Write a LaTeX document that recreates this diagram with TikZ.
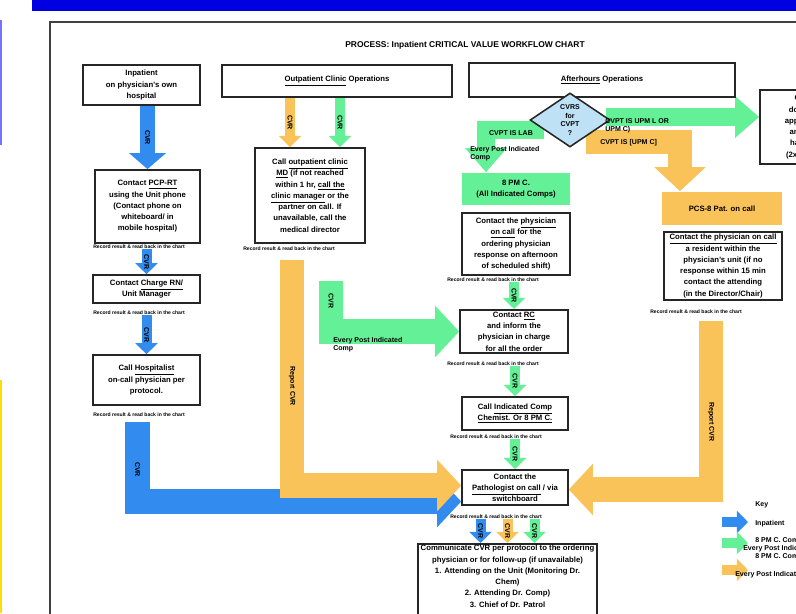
\documentclass[tikz,border=0pt]{standalone}
\usepackage{fontspec}
\setmainfont{Liberation Sans}
\usetikzlibrary{arrows.meta,shapes.geometric,calc}
\definecolor{barblue}{RGB}{0,0,225}
\definecolor{arrblue}{RGB}{50,140,240}
\definecolor{arrgreen}{RGB}{100,240,150}
\definecolor{arrorange}{RGB}{250,195,90}
\definecolor{decblue}{RGB}{190,225,245}
\pgfdeclarelayer{bg}
\pgfsetlayers{bg,main}
\tikzset{
  box/.style={draw=black!85,line width=1.1pt,fill=white,align=center,inner sep=1.5pt,
    font=\bfseries\fontsize{5.5}{8}\selectfont},
  fillbox/.style={box,draw=none},
  decision/.style={diamond,draw=black!85,line width=1.1pt,fill=decblue,inner sep=0pt,
    minimum width=2cm,minimum height=1.35cm},
  note/.style={anchor=north west,inner sep=0pt,font=\bfseries\fontsize{3.6}{4}\selectfont},
  arrlab/.style={text=black,inner sep=0pt,font=\bfseries\fontsize{5}{6}\selectfont},
  smallarr/.style={line width=0.25cm,-{Triangle[width=0.55cm,length=0.28cm]}},
  midarr/.style={line width=0.36cm,-{Triangle[width=0.9cm,length=0.4cm]}},
  diaarr/.style={line width=0.45cm,-{Triangle[width=1cm,length=0.6cm]}},
  bigarr/.style={line width=0.62cm,-{Triangle[width=1.25cm,length=0.6cm]}},
}
\begin{document}
\begin{tikzpicture}[x=0.025cm,y=-0.025cm]
\useasboundingbox (0,0) rectangle (796,613);
\fill[barblue] (32,0) rectangle (796,11);
\fill[blue!55] (0,20) rectangle (2,145);
\fill[yellow!80!orange] (0,380) rectangle (2,613);
\draw[black!75,line width=1.6pt] (830,22) -- (50,22) -- (50,650);
\node[font=\bfseries\fontsize{6}{7}\selectfont] (title) at (465,45) {PROCESS: Inpatient CRITICAL VALUE WORKFLOW CHART};

\node[box,minimum width=2.93cm,minimum height=1cm] (inpat) at (141.5,85) {Inpatient\\on physician's own\\hospital};
\node[box,minimum width=5.75cm,minimum height=0.8cm] (outpat) at (337,81) {\underline{Outpatient Clinic} Operations};
\node[box,minimum width=6.65cm,minimum height=0.85cm] (after) at (602,80) {\underline{Afterhours} Operations};
\node[box,minimum width=2.25cm,minimum height=1.85cm] (side) at (805,127) {CVPT\\does not\\apply to all\\analytes\\handled\\(2x check)};
\node[decision,label={[arrlab,align=center]center:{CVRS\\for\\CVPT\\?}}] (dec) at (570,120) {};

\node[box,minimum width=2.63cm,minimum height=1.83cm] (contact) at (147.5,206.5) {Contact \underline{PCP-RT}\\using the Unit phone\\(Contact phone on\\whiteboard/ in\\mobile hospital)};
\node[note] (ncontact) at (93,245) {Record result \& read back in the chart};
\node[box,minimum width=2.68cm,minimum height=0.7cm] (charge) at (146.5,289) {Contact \underline{Charge RN/}\\Unit Manager};
\node[note] (ncharge) at (93,311) {Record result \& read back in the chart};
\node[box,minimum width=2.68cm,minimum height=1.25cm] (hosp) at (146.5,380) {Call \underline{Hospitalist}\\on-call physician per\\protocol.};
\node[note] (nhosp) at (93,413) {Record result \& read back in the chart};

\node[box,minimum width=2.75cm,minimum height=2.38cm] (clinic) at (310,195.5) {Call \underline{outpatient clinic}\\\underline{MD} (if not reached\\within 1 hr, \underline{call the}\\\underline{clinic manager} or the\\partner on call. If\\unavailable, call the\\medical director};
\node[note] (nclinic) at (243,247) {Record result \& read back in the chart};

\node[fillbox,fill=arrgreen,minimum width=2.7cm,minimum height=0.8cm] (lab) at (516,189) {8 PM C.\\(All Indicated Comps)};
\node[box,minimum width=2.7cm,minimum height=1.55cm] (oncall) at (516,244) {Contact the \underline{physician}\\\underline{on call} for the\\ordering physician\\response on afternoon\\of scheduled shift)};
\node[note] (noncall) at (447,278) {Record result \& read back in the chart};
\node[box,minimum width=2.7cm,minimum height=1.08cm] (rc) at (514,331.5) {Contact \underline{RC}\\and inform the\\physician in charge\\for all the order};
\node[note] (nrc) at (447,362) {Record result \& read back in the chart};
\node[box,minimum width=2.65cm,minimum height=0.83cm] (chem) at (515,413.5) {Call \underline{Indicated Comp}\\\underline{Chemist. Or 8 PM C.}};
\node[note] (nchem) at (450,435) {Record result \& read back in the chart};
\node[box,minimum width=2.65cm,minimum height=0.88cm] (patho) at (515,487.5) {Contact the\\\underline{Pathologist on call} / via\\switchboard};
\node[note] (npatho) at (450,515) {Record result \& read back in the chart};
\node[box,anchor=north,inner sep=1pt,minimum width=4.48cm] (comm) at (507.5,543) {Communicate CVR per protocol to the ordering\\physician or for follow-up (if unavailable)\\1. Attending on the Unit (Monitoring Dr.\\Chem)\\2. Attending Dr. Comp)\\3. Chief of Dr. Patrol\\[16pt]\mbox{}};

\node[fillbox,fill=arrorange,minimum width=3cm,minimum height=0.83cm] (pcs) at (722,208.5) {PCS-8 Pat. on call};
\node[box,minimum width=2.95cm,minimum height=1.7cm] (ppc) at (723,266) {\underline{Contact the physician on call}\\a resident within the\\physician's unit (if no\\response within 15 min\\contact the attending\\(in the Director/Chair)};
\node[note] (nppc) at (650,310) {Record result \& read back in the chart};

\node[arrlab] (lablab) at (511,133) {CVPT IS LAB};
\node[arrlab,anchor=north west,align=left] (labpost) at (470,146) {Every Post Indicated\\Comp};
\node[arrlab,anchor=north west,align=left] (upmlab) at (605,118) {CVPT IS UPM L OR\\UPM C)};
\node[arrlab,anchor=west] (upmclab) at (600,143) {CVPT IS [UPM C]};
\node[arrlab,anchor=north west,align=left] (cliniclab) at (333,337) {Every Post Indicated\\Comp};

\node[arrlab,anchor=west] (key) at (755,505) {Key};
\coordinate (kb1) at (722,522); \coordinate (kb2) at (748,522);
\coordinate (kg1) at (722,543); \coordinate (kg2) at (748,543);
\coordinate (ko1) at (722,570); \coordinate (ko2) at (748,570);
\node[arrlab,anchor=west] (keyb) at (755,524) {Inpatient};
\node[arrlab,anchor=west] (keyg) at (755,541) {8 PM C. Comp};
\node[arrlab,anchor=west] (keyg2) at (743,549) {Every Post Indicated};
\node[arrlab,anchor=west] (keyo) at (755,557) {8 PM C. Comp};
\node[arrlab,anchor=west] (keyo2) at (735,575) {Every Post Indicated};

\begin{pgfonlayer}{bg}
\draw[midarr,arrblue] (contact.north |- inpat.south) -- node[arrlab,rotate=-90]{CVR} (contact.north);
\draw[smallarr,arrblue] (ncontact.south -| charge.north) -- node[arrlab,rotate=-90]{CVR} (charge.north);
\draw[smallarr,arrblue] (ncharge.south -| hosp.north) -- node[arrlab,rotate=-90]{CVR} (hosp.north);
\draw[bigarr,arrblue] ($(hosp.south)+(-9,16)$) |- node[pos=0.3,arrlab,rotate=-90]{CVR} ($(patho.west)+(0,14)$);
\draw[bigarr,arrorange] ($(clinic.south)+(-18,16)$) |- node[pos=0.28,arrlab,rotate=-90]{Report CVR} ($(patho.west)+(0,-2)$);
\draw[smallarr,arrorange] ($(outpat.south)+(-47,0)$) -- node[arrlab,rotate=-90]{CVR} ($(clinic.north)+(-20,0)$);
\draw[smallarr,arrgreen] ($(outpat.south)+(3,0)$) -- node[arrlab,rotate=-90]{CVR} ($(clinic.north)+(30,0)$);
\draw[bigarr,arrgreen] ($(clinic.south)+(21,37)$) |- node[pos=0.2,arrlab,rotate=-90]{CVR} (rc.west);
\draw[diaarr,arrgreen] ($(dec.west)+(15,10)$) -| ($(lab.north)+(-30,0)$);
\draw[diaarr,arrgreen] ($(dec.east)+(-5,-3)$) -- ($(dec.east -| side.west)+(0,-3)$);
\draw[bigarr,arrorange] ($(dec.east)+(-25,22)$) -| ($(pcs.north)+(-42,0)$);
\draw[bigarr,arrorange] ($(ppc.south)+(-12,20)$) |- node[pos=0.3,arrlab,rotate=-90]{Report CVR} ($(patho.east)+(0,2)$);
\draw[smallarr,arrgreen] (noncall.south -| rc.north) -- node[arrlab,rotate=-90]{CVR} (rc.north);
\draw[smallarr,arrgreen] (nrc.south -| chem.north) -- node[arrlab,rotate=-90]{CVR} (chem.north);
\draw[smallarr,arrgreen] (nchem.south -| patho.north) -- node[arrlab,rotate=-90]{CVR} (patho.north);
\draw[smallarr,arrblue] ($(npatho.south -| comm.north)+(-27,0)$) -- node[arrlab,rotate=-90]{CVR} ($(comm.north)+(-27,0)$);
\draw[smallarr,arrorange] (npatho.south -| comm.north) -- node[arrlab,rotate=-90]{CVR} (comm.north);
\draw[smallarr,arrgreen] ($(npatho.south -| comm.north)+(27,0)$) -- node[arrlab,rotate=-90]{CVR} ($(comm.north)+(27,0)$);
\draw[smallarr,arrblue] (kb1) -- (kb2);
\draw[smallarr,arrgreen] (kg1) -- (kg2);
\draw[smallarr,arrorange] (ko1) -- (ko2);
\end{pgfonlayer}
\end{tikzpicture}
\end{document}
